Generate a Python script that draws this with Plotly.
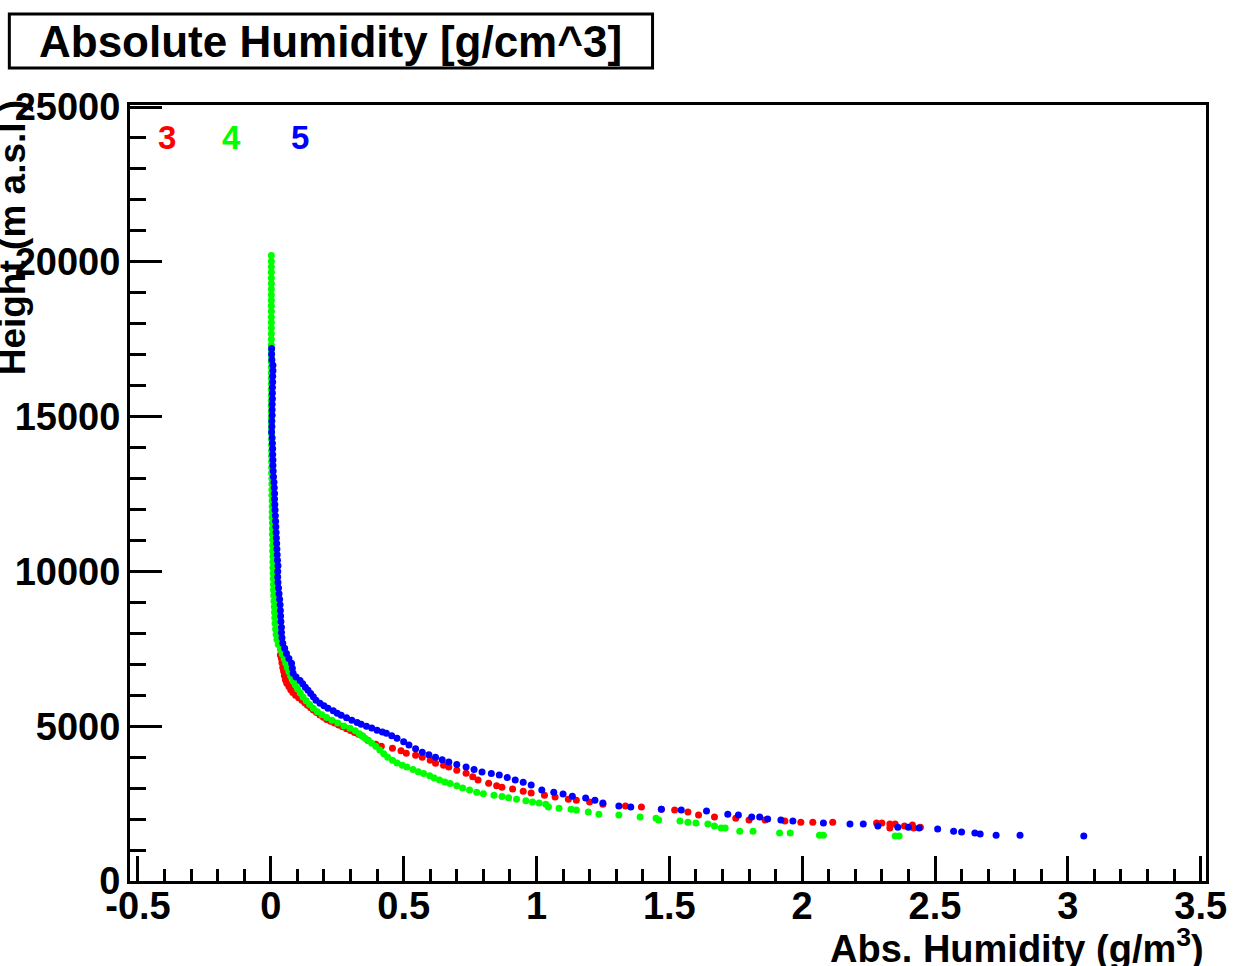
import plotly.graph_objects as go

# ---------------- data ----------------
series_names = ["3", "4", "5"]
series_colors = ["#ff0000", "#00ff00", "#0000ff"]

red_height = [7300, 7190, 7050, 6900, 6780, 6640, 6500, 6390, 6280, 6180, 6090, 6000,
              5920, 5840, 5760, 5680, 5600, 5520, 5440, 5360, 5290, 5220, 5160, 5100, 5040, 4980,
              4920, 4860, 4800, 4740, 4680, 4550, 4420, 4355, 4290, 4210, 4130, 4060, 4000, 3900,
              3800, 3740, 3680, 3580, 3480, 3370, 3260, 3160, 3080, 3030, 2970, 2900, 2840, 2770,
              2710, 2640, 2610, 2550, 2480, 2420, 2390, 2320, 2290, 2230, 2130, 2065, 2030, 1970,
              1970, 1940, 1900, 1900, 1900, 1870, 1870, 1840, 1710, 1840, 1780, 1810, 1710, 1740]
red_hum = [0.036, 0.040, 0.042, 0.045, 0.048, 0.051, 0.055, 0.060, 0.068, 0.075, 0.083,
           0.093, 0.105, 0.117, 0.128, 0.138, 0.150, 0.160, 0.172, 0.185, 0.198, 0.210, 0.225, 0.240,
           0.255, 0.270, 0.285, 0.300, 0.315, 0.330, 0.345, 0.365, 0.395, 0.416, 0.458, 0.490, 0.510,
           0.545, 0.570, 0.600, 0.620, 0.650, 0.670, 0.700, 0.735, 0.760, 0.780, 0.820, 0.850, 0.870,
           0.910, 0.950, 0.980, 1.030, 1.070, 1.120, 1.150, 1.200, 1.250, 1.335, 1.395, 1.470, 1.520,
           1.570, 1.610, 1.670, 1.750, 1.800, 1.860, 1.935, 1.995, 2.040, 2.115, 2.280, 2.300, 2.330,
           2.330, 2.350, 2.385, 2.415, 2.420, 2.445]

green_height = [20200, 20020, 19840, 19660, 19480, 19300, 19120, 18940, 18760, 18580, 18400, 18220,
                18040, 17860, 17680, 17500, 17320, 17140, 16960, 16780, 16600, 16420, 16240, 16060,
                15880, 15700, 15520, 15340, 15160, 14980, 14800, 14620, 14440, 14260, 14080, 13900,
                13720, 13540, 13360, 13180, 13000, 12820, 12640, 12460, 12280, 12100, 11920, 11740,
                11560, 11380, 11200, 11020, 10840, 10660, 10480, 10300, 10120, 9940, 9760, 9580, 9400,
                9220, 9040, 8860, 8680, 8500, 8320, 8140, 7960, 7800, 7640, 7480, 7330, 7180, 7040,
                6900, 6760, 6620, 6480, 6340, 6200, 6070, 5940, 5820, 5700, 5580, 5470, 5370, 5280,
                5190, 5100, 5010, 4930, 4850, 4760, 4680, 4610, 4530, 4450, 4350, 4230, 4110, 4000,
                3900, 3810, 3740, 3680, 3600, 3530, 3470, 3400, 3330, 3260, 3200, 3150, 3080, 3000,
                2940, 2870, 2820, 2770, 2730, 2690, 2640, 2590, 2550, 2520, 2480, 2390, 2350, 2320,
                2290, 2230, 2160, 2130, 2065, 2030, 1970, 1935, 1900, 1870, 1840, 1780, 1710, 1710,
                1610, 1610, 1550, 1550, 1480, 1480, 1450, 1450]
green_hum = [0.002, 0.002, 0.002, 0.002, 0.002, 0.002, 0.002, 0.002, 0.002, 0.002, 0.002, 0.002,
             0.002, 0.002, 0.002, 0.002, 0.002, 0.002, 0.002, 0.002, 0.002, 0.002, 0.002, 0.002,
             0.002, 0.002, 0.002, 0.002, 0.002, 0.002, 0.002, 0.003, 0.003, 0.003, 0.003, 0.003,
             0.003, 0.003, 0.003, 0.003, 0.004, 0.004, 0.004, 0.004, 0.005, 0.005, 0.005, 0.005,
             0.006, 0.006, 0.006, 0.007, 0.007, 0.007, 0.008, 0.008, 0.008, 0.009, 0.009, 0.010,
             0.010, 0.011, 0.012, 0.013, 0.014, 0.015, 0.016, 0.018, 0.020, 0.023, 0.028, 0.036,
             0.043, 0.050, 0.056, 0.062, 0.068, 0.075, 0.083, 0.092, 0.101, 0.111, 0.121, 0.133,
             0.146, 0.160, 0.175, 0.192, 0.210, 0.230, 0.252, 0.275, 0.298, 0.318, 0.333, 0.345,
             0.355, 0.368, 0.380, 0.395, 0.410, 0.425, 0.440, 0.458, 0.475, 0.495, 0.512, 0.535,
             0.555, 0.575, 0.598, 0.615, 0.635, 0.655, 0.675, 0.700, 0.722, 0.748, 0.775, 0.800,
             0.840, 0.870, 0.895, 0.925, 0.960, 0.985, 1.010, 1.035, 1.045, 1.085, 1.130, 1.150,
             1.195, 1.235, 1.310, 1.390, 1.450, 1.460, 1.540, 1.570, 1.600, 1.645, 1.670, 1.695,
             1.710, 1.765, 1.815, 1.915, 1.955, 2.065, 2.080, 2.350, 2.365]

blue_height = [17200, 17020, 16840, 16660, 16480, 16300, 16120, 15940, 15760, 15580, 15400, 15220,
               15040, 14860, 14680, 14500, 14320, 14140, 13960, 13780, 13600, 13420, 13240, 13060,
               12880, 12700, 12520, 12340, 12160, 11980, 11800, 11620, 11440, 11260, 11080, 10900,
               10720, 10540, 10360, 10180, 10000, 9820, 9640, 9460, 9280, 9100, 8920, 8740, 8560,
               8380, 8200, 8030, 7860, 7680, 7520, 7350, 7190, 7030, 6870, 6710, 6590, 6480, 6370,
               6260, 6160, 6060, 5950, 5840, 5740, 5660, 5580, 5500, 5420, 5350, 5270, 5190, 5120,
               5060, 5000, 4940, 4870, 4810, 4770, 4690, 4610, 4500, 4390, 4270, 4160, 4080, 4000,
               3920, 3840, 3760, 3680, 3600, 3520, 3470, 3420, 3340, 3260, 3190, 3100, 2940, 2870,
               2810, 2740, 2680, 2610, 2520, 2420, 2390, 2320, 2290, 2260, 2160, 2130, 2065, 2065,
               2000, 1970, 1940, 1870, 1840, 1840, 1780, 1740, 1740, 1710, 1680, 1610, 1580, 1550,
               1520, 1480, 1480, 1450]
blue_hum = [0.003, 0.003, 0.004, 0.008, 0.008, 0.007, 0.007, 0.006, 0.006, 0.006, 0.005, 0.005,
            0.005, 0.004, 0.004, 0.003, 0.005, 0.006, 0.007, 0.007, 0.008, 0.008, 0.009, 0.010,
            0.012, 0.013, 0.014, 0.014, 0.015, 0.016, 0.017, 0.018, 0.019, 0.020, 0.021, 0.022,
            0.023, 0.024, 0.025, 0.027, 0.026, 0.026, 0.027, 0.029, 0.031, 0.033, 0.035, 0.036,
            0.037, 0.038, 0.040, 0.040, 0.042, 0.045, 0.052, 0.059, 0.068, 0.078, 0.081, 0.084,
            0.095, 0.110, 0.120, 0.130, 0.140, 0.150, 0.160, 0.170, 0.185, 0.200, 0.215, 0.235,
            0.250, 0.265, 0.285, 0.305, 0.325, 0.340, 0.360, 0.380, 0.400, 0.420, 0.435, 0.455,
            0.475, 0.500, 0.520, 0.545, 0.570, 0.595, 0.620, 0.645, 0.670, 0.700, 0.735, 0.765,
            0.795, 0.830, 0.860, 0.890, 0.920, 0.950, 0.980, 1.020, 1.065, 1.100, 1.135, 1.185,
            1.220, 1.250, 1.310, 1.355, 1.470, 1.545, 1.640, 1.720, 1.760, 1.810, 1.840, 1.870,
            1.920, 1.965, 2.080, 2.180, 2.230, 2.285, 2.360, 2.400, 2.440, 2.510, 2.570, 2.600,
            2.650, 2.670, 2.730, 2.820, 3.060]

x_tick_vals = [-0.5, 0, 0.5, 1, 1.5, 2, 2.5, 3, 3.5]
x_tick_text = ["-0.5", "0", "0.5", "1", "1.5", "2", "2.5", "3", "3.5"]
y_tick_vals = [0, 5000, 10000, 15000, 20000, 25000]
y_tick_text = ["0", "5000", "10000", "15000", "20000", "25000"]

title_text = "Absolute Humidity [g/cm^3]"
x_title = "Abs. Humidity (g/m<sup>3</sup>)"
y_title = "Height (m a.s.l.)"

# ---------------- figure ----------------
W, H = 1239, 966
L, R, T, B = 130, 30, 105, 85
PW, PH = W - L - R, H - T - B


def px(x):
    return (x - L) / PW


def py(y):
    return (H - B - y) / PH


FONT = "Liberation Sans, Arial, Helvetica, sans-serif"

fig = go.Figure()
for name, color, xs, ys in zip(series_names, series_colors,
                               [red_hum, green_hum, blue_hum],
                               [red_height, green_height, blue_height]):
    fig.add_trace(go.Scatter(x=xs, y=ys, mode="markers", name=name,
                             marker=dict(color=color, size=7, line=dict(width=0)),
                             showlegend=False))

fig.update_layout(
    width=W, height=H,
    margin=dict(l=L, r=R, t=T, b=B, pad=0),
    paper_bgcolor="white", plot_bgcolor="white",
    font=dict(family=FONT, color="black"),
    xaxis=dict(range=[-0.53, 3.52], showgrid=False, zeroline=False,
               showline=True, linecolor="black", linewidth=3, mirror=True,
               ticks="inside", ticklen=25, tickwidth=3, tickcolor="black",
               tickmode="array", tickvals=x_tick_vals, ticktext=x_tick_text,
               tickfont=dict(size=38, family=FONT, weight="bold"),
               ticklabelstandoff=-11,
               minor=dict(ticks="inside", ticklen=12, tickwidth=3, tickcolor="black",
                          tickmode="linear", tick0=0, dtick=0.1)),
    yaxis=dict(range=[0, 25065], showgrid=False, zeroline=False,
               showline=True, linecolor="black", linewidth=3, mirror=True,
               ticks="inside", ticklen=32, tickwidth=3, tickcolor="black",
               tickmode="array", tickvals=y_tick_vals, ticktext=y_tick_text,
               tickfont=dict(size=38, family=FONT, weight="bold"),
               ticklabelstandoff=-1,
               minor=dict(ticks="inside", ticklen=16, tickwidth=3, tickcolor="black",
                          tickmode="linear", tick0=0, dtick=1000)),
)

# title box
fig.add_shape(type="rect", xref="paper", yref="paper",
              x0=px(9), x1=px(654), y0=py(68), y1=py(14),
              line=dict(color="black", width=3), fillcolor="white", layer="above")
fig.add_annotation(text=title_text, xref="paper", yref="paper",
                   x=px(331), y=py(41), xanchor="center", yanchor="middle",
                   showarrow=False, font=dict(size=44, family=FONT, weight="bold"))

# axis titles
fig.add_annotation(text=x_title, xref="paper", yref="paper",
                   x=px(1209), y=py(946), xanchor="right", yanchor="middle",
                   showarrow=False, font=dict(size=38, family=FONT, weight="bold"))
fig.add_annotation(text=y_title, xref="paper", yref="paper",
                   x=px(13), y=py(238), xanchor="center", yanchor="middle",
                   textangle=-90, showarrow=False,
                   font=dict(size=37, family=FONT, weight="bold"))

# series labels
for name, color, xc in zip(series_names, series_colors, [167, 232, 300]):
    fig.add_annotation(text=name, xref="paper", yref="paper",
                       x=px(xc), y=py(138), xanchor="center", yanchor="middle",
                       showarrow=False, font=dict(size=33, family=FONT, weight="bold", color=color))

fig.write_html("out.html")
